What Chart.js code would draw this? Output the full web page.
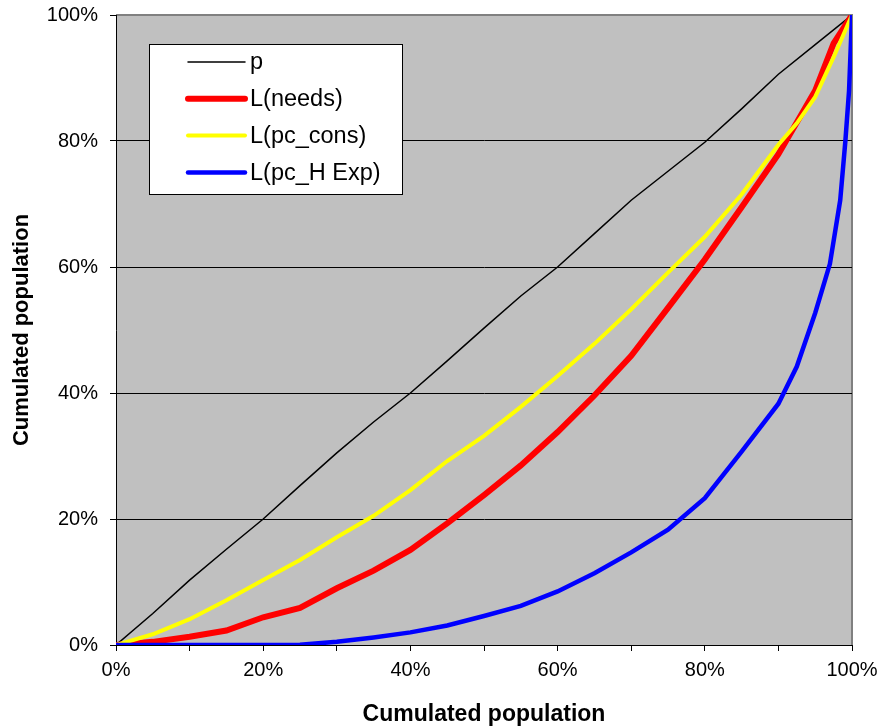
<!DOCTYPE html>
<html>
<head>
<meta charset="utf-8">
<script src="https://cdn.jsdelivr.net/npm/chart.js@4.4.1/dist/chart.umd.min.js"></script>
<style>
  body { margin: 0; background: #fff; }
</style>
</head>
<body>
<canvas id="lorenz" width="882" height="728"></canvas>
<script>
// values, in %
var popX   = [0, 5, 10, 15, 20, 25, 30, 35, 40, 45, 50, 55, 60, 65, 70, 75, 80, 85, 90, 95, 100]
var popY   = [0, 5.0, 10.3, 15.2, 20.0, 25.3, 30.5, 35.4, 40.0, 45.1, 50.3, 55.4, 60.0, 65.3, 70.6, 75.2, 79.8, 85.1, 90.6, 95.3, 100]

var needsX = [0, 5, 10, 15, 20, 25, 30, 35, 40, 45, 50, 55, 60, 65, 70, 75, 80, 85, 90, 95, 97.5, 100]
var needsY = [0, 0.5, 1.3, 2.3, 4.4, 5.9, 9.0, 11.8, 15.1, 19.3, 23.8, 28.5, 33.8, 39.6, 45.9, 53.5, 61.2, 69.5, 77.9, 88.0, 95.5, 100]

var consX  = [0, 5, 10, 15, 20, 25, 30, 35, 40, 45, 50, 55, 60, 65, 70, 75, 80, 85, 90, 92.5, 95, 97.5, 100]
var consY  = [0, 1.7, 4.1, 7.1, 10.3, 13.5, 17.1, 20.5, 24.6, 29.2, 33.2, 37.8, 42.7, 47.8, 53.3, 59.1, 64.8, 71.5, 79.4, 82.8, 87.0, 93.3, 100]

var hexpX  = [0, 10, 20, 25, 30, 35, 40, 45, 50, 55, 60, 65, 70, 75, 80, 85, 90, 92.5, 95, 97, 98.4, 99.1, 99.6, 100]
var hexpY  = [0, 0, 0, 0.05, 0.5, 1.2, 2.0, 3.1, 4.6, 6.2, 8.5, 11.4, 14.7, 18.3, 23.3, 30.7, 38.3, 44.2, 52.7, 60.5, 70.6, 80, 88, 100]

var seriesNames = ["p", "L(needs)", "L(pc_cons)", "L(pc_H Exp)"]
var seriesColors = ["#000000", "#ff0000", "#ffff00", "#0000ff"]
var seriesWidths = [1.5, 6, 4, 4.5]

var axisTitle = "Cumulated population"
var fontName = "Arial, 'Liberation Sans', sans-serif"

function toPoints(xs, ys){
  var pts = []
  for (var i = 0; i < xs.length; i++){
    pts.push({x: xs[i], y: ys[i]})
  }
  return pts
}

function makeSet(i, xs, ys){
  return {
    label: seriesNames[i],
    data: toPoints(xs, ys),
    borderColor: seriesColors[i],
    backgroundColor: seriesColors[i],
    borderWidth: seriesWidths[i],
    pointRadius: 0,
    fill: false,
    tension: 0,
    order: 4 - i
  }
}

// grey plot area with the grey top/right frame
var plotBack = {
  id: "plotBack",
  beforeDraw: function(chart){
    var a = chart.chartArea
    var ctx = chart.ctx
    ctx.save()
    ctx.fillStyle = "#ffffff"
    ctx.fillRect(0, 0, chart.width, chart.height)
    ctx.fillStyle = "#c0c0c0"
    ctx.fillRect(a.left, a.top, a.right - a.left, a.bottom - a.top)
    ctx.strokeStyle = "#808080"
    ctx.lineWidth = 2
    ctx.beginPath()
    ctx.moveTo(a.left, a.top)
    ctx.lineTo(a.right, a.top)
    ctx.lineTo(a.right, a.bottom)
    ctx.stroke()
    ctx.restore()
  }
}

// boxed legend inside the plot, like the original
var boxLegend = {
  id: "boxLegend",
  afterDraw: function(chart){
    var ctx = chart.ctx
    var sets = chart.data.datasets
    ctx.save()
    ctx.fillStyle = "#ffffff"
    ctx.fillRect(149.5, 44.5, 253, 150)
    ctx.strokeStyle = "#000000"
    ctx.lineWidth = 1
    ctx.strokeRect(149.5, 44.5, 253, 150)
    ctx.font = "23.5px " + fontName
    ctx.textBaseline = "middle"
    ctx.textAlign = "left"
    for (var i = 0; i < sets.length; i++){
      var y = 62 + i * 36.8
      ctx.strokeStyle = sets[i].borderColor
      ctx.lineWidth = sets[i].borderWidth
      ctx.lineCap = "round"
      ctx.beginPath()
      ctx.moveTo(188, y)
      ctx.lineTo(245, y)
      ctx.stroke()
      ctx.fillStyle = "#000000"
      ctx.fillText(sets[i].label, 250, y + 1)
    }
    ctx.restore()
  }
}

Chart.defaults.font.family = fontName
Chart.defaults.color = "#000000"

var myChart = new Chart(document.getElementById("lorenz"), {
  type: "line",
  data: {
    datasets: [
      makeSet(0, popX, popY),
      makeSet(1, needsX, needsY),
      makeSet(2, consX, consY),
      makeSet(3, hexpX, hexpY)
    ]
  },
  options: {
    responsive: false,
    animation: false,
    layout: { padding: { top: 15, right: 30, left: 0, bottom: 0 } },
    plugins: {
      legend: { display: false },
      tooltip: { enabled: false }
    },
    scales: {
      x: {
        type: "linear",
        min: 0,
        max: 100,
        afterFit: function(scale){
          scale.height = 83
          scale.paddingLeft = 0
          scale.paddingRight = 0
        },
        border: { display: true, color: "#000000", width: 1 },
        grid: { drawOnChartArea: false, drawTicks: true, tickLength: 6, color: "#000000" },
        ticks: {
          stepSize: 10,
          autoSkip: false,
          maxRotation: 0,
          padding: 7,
          font: { size: 20 },
          callback: function(v){ return v % 20 === 0 ? v + "%" : "" }
        },
        title: {
          display: true,
          text: axisTitle,
          font: { size: 23, weight: "bold" },
          padding: { top: 0, bottom: 0 }
        }
      },
      y: {
        min: 0,
        max: 100,
        afterFit: function(scale){
          scale.width = 116
          scale.paddingTop = 0
          scale.paddingBottom = 0
        },
        border: { display: true, color: "#000000", width: 1 },
        grid: {
          tickLength: 6,
          tickColor: "#000000",
          color: function(c){ return c.tick && c.tick.value === 100 ? "rgba(0,0,0,0)" : "#000000" }
        },
        ticks: {
          stepSize: 20,
          padding: 12,
          font: { size: 20 },
          callback: function(v){ return v + "%" }
        },
        title: {
          display: true,
          text: axisTitle,
          font: { size: 22, weight: "bold" },
          padding: { top: 9, bottom: 0 }
        }
      }
    }
  },
  plugins: [plotBack, boxLegend]
})
</script>
</body>
</html>
